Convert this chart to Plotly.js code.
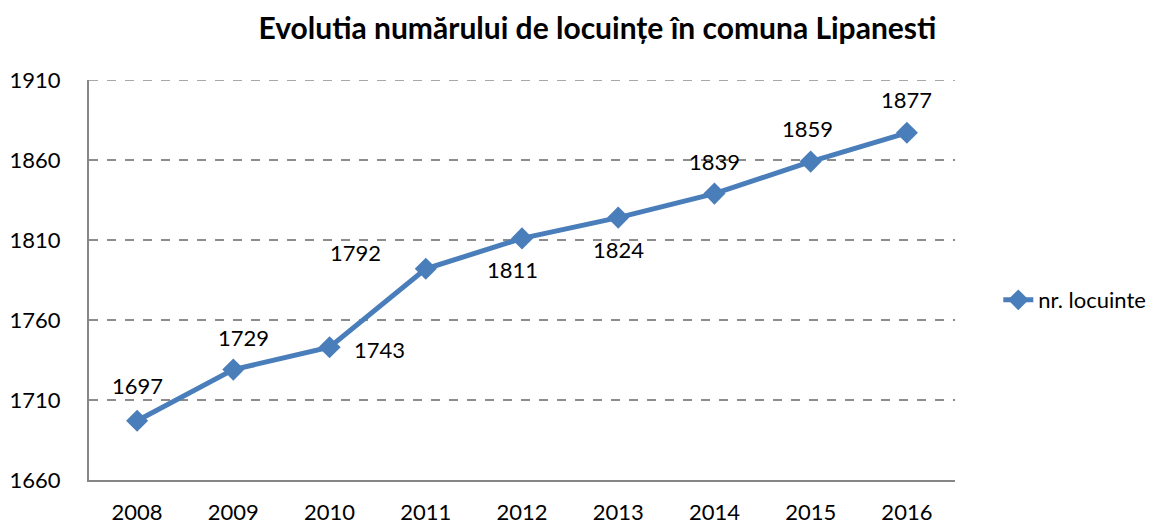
<!DOCTYPE html>
<html><head><meta charset="utf-8">
<script src="https://cdn.plot.ly/plotly-3.0.1.min.js"></script>
<style>body{margin:0;background:#fff}#c{width:1176px;height:524px}</style>
</head><body><div id="c"></div>
<script>
var years = ['2008','2009','2010','2011','2012','2013','2014','2015','2016'];
var locuinte = [1697,1729,1743,1792,1811,1824,1839,1859,1877];
var seriesName = 'nr. locuinte';
var titleText = 'Evolutia numărului de locuințe în comuna Lipanesti';
var yTicks = [1660,1710,1760,1810,1860,1910];

// label offsets (px) relative to each point
var labelDx = [0,10,50,-70,-10,0,0,-3,0];
var labelDy = [-35,-32,2,-16,31,32,-32,-33,-33];

var FONT = 'Lato, "Open Sans", sans-serif';
var blue = '#4A7EBB';

var annotations = [];
for (var i = 0; i < years.length; i++) {
  annotations.push({x:i, y:locuinte[i], xref:'x', yref:'y', text:String(locuinte[i]), showarrow:false,
    xanchor:'center', yanchor:'middle',
    xshift:labelDx[i], yshift:-labelDy[i], font:{family:FONT,size:22,color:'#000'}});
}

var trace = {x:years, y:locuinte, type:'scatter', mode:'lines+markers', name:seriesName,
  line:{color:blue,width:5}, marker:{symbol:'diamond',size:17,color:blue}};

var topTick = yTicks[yTicks.length-1];

var layout = {
  width:1176, height:524,
  margin:{l:89,r:221,t:80,b:44},
  paper_bgcolor:'#fff', plot_bgcolor:'#fff',
  title:{text:'<b>'+titleText+'</b>', font:{family:FONT,size:30,color:'#000'}, x:0.508, xanchor:'center', y:0.945, yanchor:'middle'},
  xaxis:{type:'category', range:[-0.5,8.5], showgrid:false, zeroline:false, showline:true, linecolor:'#868686', linewidth:2,
    ticks:'', tickfont:{family:FONT,size:22,color:'#000'}, ticklabelstandoff:12},
  yaxis:{range:[yTicks[0],topTick], tickvals:yTicks, ticktext:yTicks.map(String), showgrid:true, gridcolor:'#8c8c8c', griddash:'dash', gridwidth:1.5,
    zeroline:false, showline:true, linecolor:'#868686', linewidth:2, ticks:'', tickfont:{family:FONT,size:22,color:'#000'}, ticklabelstandoff:22},
  shapes:[{type:'line', xref:'paper', yref:'y', x0:0, x1:1, y0:topTick, y1:topTick, layer:'below',
    line:{color:'#8c8c8c', width:1.5, dash:'dash'}}],
  showlegend:true,
  legend:{x:1.05, xanchor:'left', y:0.45, yanchor:'middle', font:{family:FONT,size:22,color:'#000'}, bgcolor:'rgba(0,0,0,0)'},
  annotations:annotations
};
Plotly.newPlot('c',[trace],layout,{displayModeBar:false,staticPlot:true});
</script></body></html>
